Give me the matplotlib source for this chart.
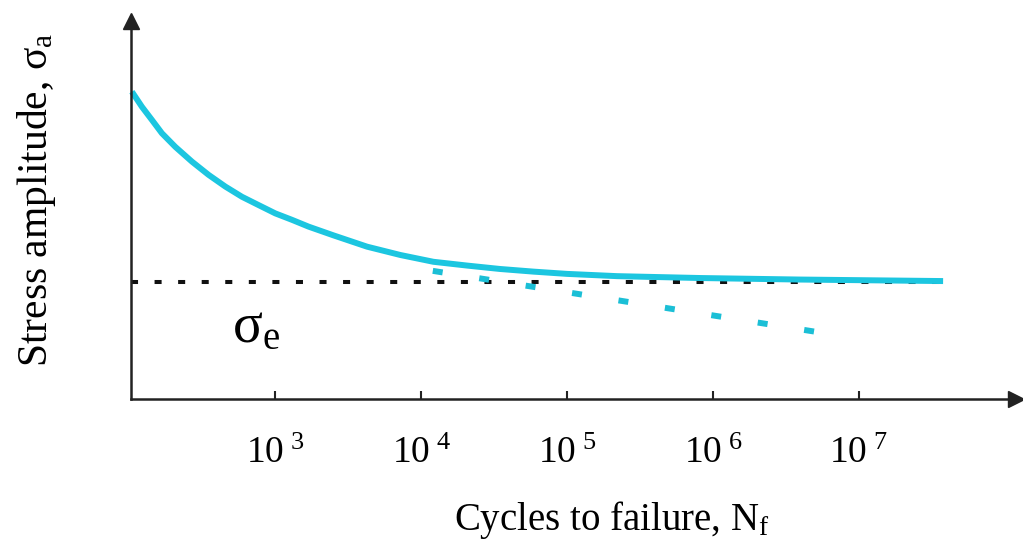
import matplotlib
matplotlib.use("Agg")
import matplotlib.pyplot as plt
import numpy as np

plt.rcParams['font.family'] = ['Liberation Serif', 'DejaVu Serif']
plt.rcParams['mathtext.fontset'] = 'custom'
plt.rcParams['mathtext.rm'] = 'Liberation Serif'
plt.rcParams['mathtext.it'] = 'Liberation Serif:italic'

# S-N curve (log10 of cycles, stress in arbitrary units 0-100)
sn_log_cycles = [2.016, 2.085, 2.154, 2.222, 2.314, 2.428, 2.542, 2.657, 2.771,
                 2.885, 3.0, 3.114, 3.228, 3.398, 3.629, 3.857, 4.084, 4.315,
                 4.54, 4.77, 5.0, 5.344, 5.92, 6.6, 7.58]
sn_stress = [81.3, 77.3, 73.8, 70.3, 66.7, 62.8, 59.3, 56.2, 53.5,
             51.3, 49.1, 47.4, 45.6, 43.3, 40.3, 38.1, 36.3, 35.3,
             34.4, 33.7, 33.1, 32.5, 32.0, 31.6, 31.2]

# no endurance limit branch
nonferrous_log_cycles = [4.08, 6.72]
nonferrous_stress = [33.9, 17.7]

# endurance limit
sigma_e = 31.0
endurance_log_cycles = [2.01, 7.56]

tick_exps = [3, 4, 5, 6, 7]

cyan = '#1cc6e0'
axcol = '#222222'

fig = plt.figure(figsize=(10.23, 5.49), dpi=100)
ax = fig.add_axes([131/1023, 150/549, (1016-131)/1023, (399-21)/549])
ax.set_xscale('log')
ax.set_xlim(10**2.01, 10**8.08)
ax.set_ylim(0, 100)

ax.plot(10**np.array(endurance_log_cycles), [sigma_e, sigma_e], color='#111111',
        lw=2.9, linestyle=(0, (1.75, 4.1)), solid_capstyle='butt', dash_capstyle='butt')
ax.plot(10**np.array(sn_log_cycles), sn_stress, color=cyan, lw=4.3,
        solid_capstyle='butt', solid_joinstyle='round', clip_on=False)
ax.plot(10**np.array(nonferrous_log_cycles), nonferrous_stress, color='#1bbfd6', lw=4.3,
        linestyle=(0, (1.67, 6.2)), dash_capstyle='butt')

for s in ['top', 'right']:
    ax.spines[s].set_visible(False)
for s in ['left', 'bottom']:
    ax.spines[s].set_linewidth(1.8)
    ax.spines[s].set_color(axcol)
ax.plot(1, 0, '>', color=axcol, ms=11, transform=ax.transAxes, clip_on=False)
ax.plot(0, 1, '^', color=axcol, ms=11, transform=ax.transAxes, clip_on=False)

ax.set_yticks([])
ax.set_xticks([10.0**e for e in tick_exps])
ax.set_xticklabels([r'$\mathrm{10}^{\ \mathrm{%d}}$' % e for e in tick_exps])
ax.minorticks_off()
ax.tick_params(axis='x', direction='in', length=6, width=1.5, color=axcol,
               pad=27, labelsize=27)

fig.text(612/1023, 1 - 520/549, r'Cycles to failure, N$_\mathrm{f}$',
         fontsize=28, ha='center', va='center')
fig.text(37/1023, 1 - 200/549, r'Stress amplitude, $\mathrm{σ}_\mathrm{a}$',
         fontsize=30, ha='center', va='center', rotation=90)
fig.text(256/1023, 1 - 328/549, r'$\mathrm{σ}_\mathrm{e}$',
         fontsize=40, ha='center', va='center')

fig.savefig('out.png', dpi=100)
